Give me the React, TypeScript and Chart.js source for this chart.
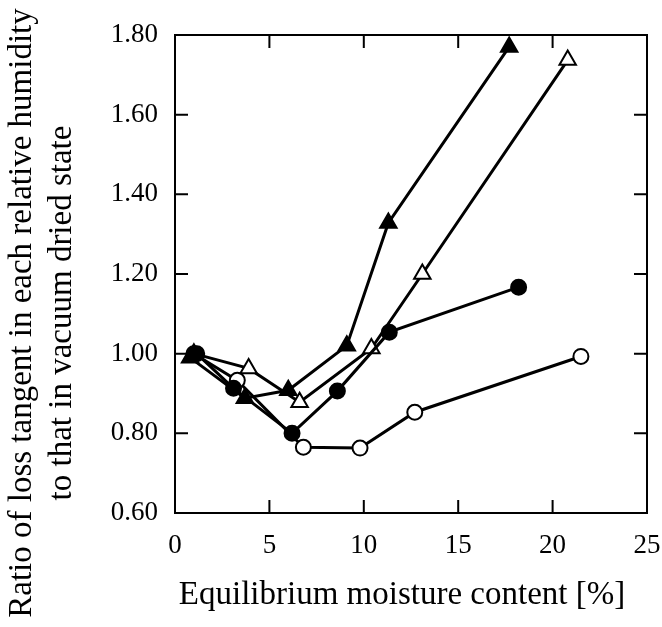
import React, { useEffect, useRef } from "react";
import { Chart, registerables } from "chart.js";

Chart.register(...registerables);

// Data
const filledTriangleX = [0.8, 3.7, 6.0, 9.1, 11.3, 17.7];
const filledTriangleY = [0.99, 0.888, 0.908, 1.02, 1.328, 1.77];

const openTriangleX = [1.0, 3.9, 6.6, 10.4, 13.1, 20.8];
const openTriangleY = [1.0, 0.963, 0.878, 1.013, 1.2, 1.737];

const filledCircleX = [1.15, 3.1, 6.2, 8.6, 11.35, 18.2];
const filledCircleY = [1.0, 0.913, 0.8, 0.906, 1.054, 1.167];

const openCircleX = [1.0, 3.3, 6.8, 9.8, 12.7, 21.5];
const openCircleY = [1.0, 0.933, 0.765, 0.763, 0.853, 0.993];

const xTicks = [0, 5, 10, 15, 20, 25];
const yTicks = [0.6, 0.8, 1.0, 1.2, 1.4, 1.6, 1.8];

const xTitle = "Equilibrium moisture content [%]";
const yTitleLines = [
  "Ratio of loss tangent in each relative humidity",
  "to that in vacuum dried state",
];

const FONT = "'Liberation Serif', 'DejaVu Serif', serif";

const toPoints = (xs: number[], ys: number[]) => xs.map((x, i) => ({ x, y: ys[i] }));

const framePlugin = {
  id: "framePlugin",
  afterDraw(chart: any) {
    const { ctx, chartArea } = chart;
    const { left, right, top, bottom } = chartArea;
    const xs = chart.scales.x;
    const ys = chart.scales.y;
    ctx.save();
    ctx.strokeStyle = "#000";
    ctx.lineWidth = 2;
    ctx.strokeRect(left, top, right - left, bottom - top);
    const tl = 13;
    ctx.beginPath();
    xTicks.forEach((v) => {
      const px = xs.getPixelForValue(v);
      ctx.moveTo(px, bottom);
      ctx.lineTo(px, bottom - tl);
      ctx.moveTo(px, top);
      ctx.lineTo(px, top + tl);
    });
    yTicks.forEach((v) => {
      const py = ys.getPixelForValue(v);
      ctx.moveTo(left, py);
      ctx.lineTo(left + tl, py);
      ctx.moveTo(right, py);
      ctx.lineTo(right - tl, py);
    });
    ctx.stroke();

    // axis titles
    ctx.fillStyle = "#000";
    ctx.font = `33px ${FONT}`;
    ctx.textAlign = "center";
    ctx.textBaseline = "alphabetic";
    ctx.fillText(xTitle, 402, 604);

    ctx.translate(0, 313);
    ctx.rotate(-Math.PI / 2);
    ctx.fillText(yTitleLines[0], 0, 31);
    ctx.fillText(yTitleLines[1], 0, 71);
    ctx.restore();
  },
};

export default function App() {
  const ref = useRef<HTMLCanvasElement | null>(null);

  useEffect(() => {
    if (!ref.current) return;
    const common = {
      showLine: true,
      borderColor: "#000",
      borderWidth: 3,
      pointBorderColor: "#000",
      pointBorderWidth: 2,
    };
    const chart = new Chart(ref.current, {
      type: "scatter",
      data: {
        datasets: [
          {
            ...common,
            label: "filled circle",
            data: toPoints(filledCircleX, filledCircleY),
            pointStyle: "circle",
            pointRadius: 7.5,
            pointBackgroundColor: "#000",
          },
          {
            ...common,
            label: "filled triangle",
            data: toPoints(filledTriangleX, filledTriangleY),
            pointStyle: "triangle",
            pointRadius: 9.5,
            pointBackgroundColor: "#000",
          },
          {
            ...common,
            label: "open triangle",
            data: toPoints(openTriangleX, openTriangleY),
            pointStyle: "triangle",
            pointRadius: 9.5,
            pointBackgroundColor: "#fff",
          },
          {
            ...common,
            label: "open circle",
            data: toPoints(openCircleX, openCircleY),
            pointStyle: "circle",
            pointRadius: 7.5,
            pointBackgroundColor: "#fff",
          },
        ],
      },
      options: {
        responsive: false,
        animation: false,
        layout: { padding: { left: 0, top: 35, right: 15, bottom: 0 } },
        plugins: {
          legend: { display: false },
          tooltip: { enabled: false },
          title: { display: false },
        },
        scales: {
          x: {
            type: "linear",
            min: 0,
            max: 25,
            afterFit: (s: any) => {
              s.height = 114;
              s.paddingLeft = 0;
              s.paddingRight = 0;
            },
            afterBuildTicks: (s: any) => {
              s.ticks = xTicks.map((v) => ({ value: v }));
            },
            grid: { display: false, drawTicks: false },
            border: { display: false },
            ticks: {
              color: "#000",
              font: { family: FONT, size: 27 },
              padding: 17,
              maxRotation: 0,
              autoSkip: false,
            },
          },
          y: {
            type: "linear",
            min: 0.6,
            max: 1.8,
            afterFit: (s: any) => {
              s.width = 175;
              s.paddingTop = 0;
              s.paddingBottom = 0;
            },
            afterBuildTicks: (s: any) => {
              s.ticks = yTicks.map((v) => ({ value: v }));
            },
            grid: { display: false, drawTicks: false },
            border: { display: false },
            ticks: {
              color: "#000",
              font: { family: FONT, size: 27 },
              padding: 17,
              autoSkip: false,
              callback: (v: any) => Number(v).toFixed(2),
            },
          },
        },
      },
      plugins: [framePlugin],
    });
    return () => chart.destroy();
  }, []);

  return (
    <div style={{ position: "absolute", left: 0, top: 0, width: 662, height: 627, background: "#fff" }}>
      <canvas ref={ref} width={662} height={627} style={{ display: "block" }} />
    </div>
  );
}
